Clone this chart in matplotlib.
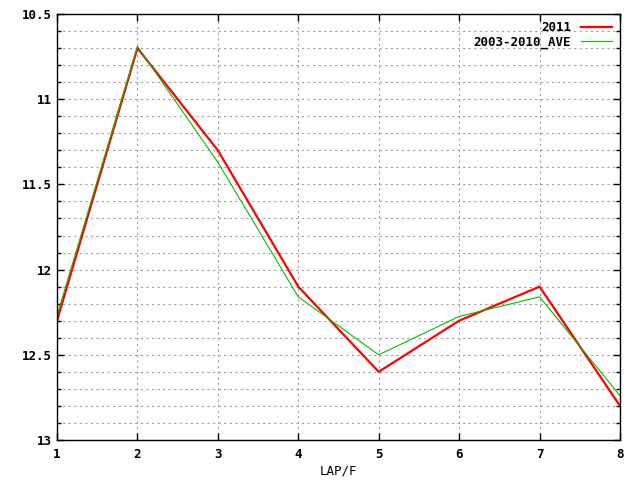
import numpy as np
import matplotlib.pyplot as plt
from matplotlib.ticker import MultipleLocator

laps = [1, 2, 3, 4, 5, 6, 7, 8]
y2011 = [12.3, 10.7, 11.3, 12.1, 12.6, 12.3, 12.1, 12.8]
yave = [12.27, 10.69, 11.37, 12.16, 12.5, 12.275, 12.16, 12.74]

plt.rcParams['font.family'] = ['DejaVu Sans Mono']
plt.rcParams['font.weight'] = 'bold'
plt.rcParams['font.size'] = 9

fig = plt.figure(figsize=(6.4, 4.8), dpi=100)
ax = fig.add_axes([57/640, 40/480, 563/640, 426/480])

ax.plot(laps, y2011, color='#ff0000', lw=1.6, label='2011')
ax.plot(laps, yave, color='#00c000', lw=0.8, label='2003-2010_AVE')

ax.set_xlim(1, 8)
ax.set_ylim(13, 10.5)
ax.set_xticks(laps)
ax.yaxis.set_major_locator(MultipleLocator(0.5))
ax.yaxis.set_minor_locator(MultipleLocator(0.1))
ax.set_yticks([10.5, 11, 11.5, 12, 12.5, 13])
ax.set_yticklabels(['10.5', '11', '11.5', '12', '12.5', '13'])

ax.grid(True, which='both', axis='y', color='#a0a0a0', ls=(0, (2, 3)), lw=0.8)
ax.grid(True, which='major', axis='x', color='#a0a0a0', ls=(0, (2, 3)), lw=0.8)
ax.tick_params(which='both', direction='in', top=True, right=True, length=5, width=1)
ax.tick_params(which='minor', length=3)
ax.tick_params(axis='x', pad=6)
for s in ax.spines.values():
    s.set_linewidth(1)

ax.set_xlabel('LAP/F', labelpad=2)
leg = ax.legend(loc='upper right', frameon=False, markerfirst=False,
                handlelength=2.5, borderaxespad=0.0, labelspacing=0.1,
                bbox_to_anchor=(0.995, 0.995))

fig.savefig('out.png', dpi=100)
